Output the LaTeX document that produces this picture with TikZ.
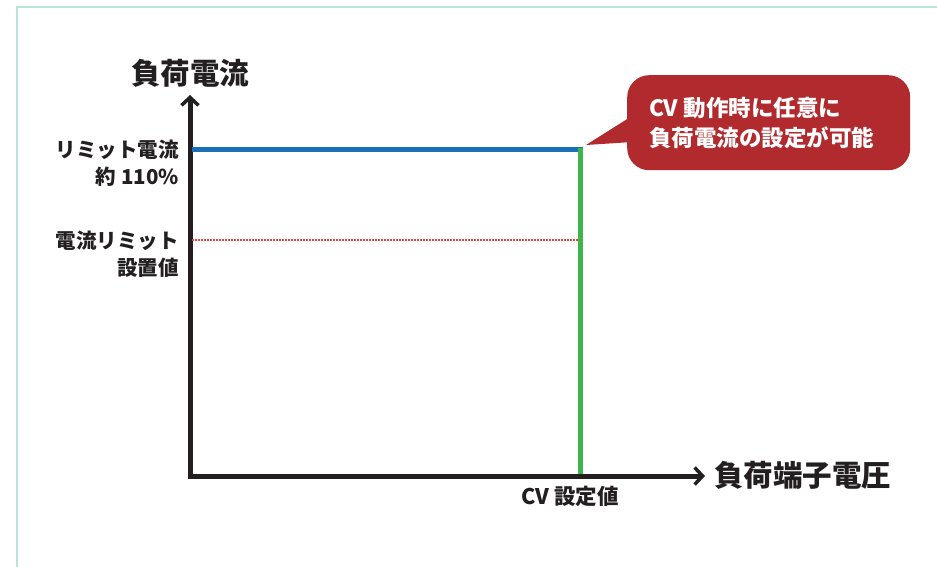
\documentclass[tikz,border=0pt]{standalone}
\usepackage{fontspec}
\newfontfamily\jp{Noto Sans CJK JP}
\usetikzlibrary{arrows.meta}
\definecolor{frame}{HTML}{BCE3D8}
\definecolor{axis}{HTML}{231F20}
\definecolor{blueln}{HTML}{1A6FB8}
\definecolor{greenln}{HTML}{3DB54A}
\definecolor{redln}{HTML}{EE4035}
\definecolor{callout}{HTML}{B02A2E}
\tikzset{
  lbl/.style={font=\jp\bfseries\fontsize{20.5}{27}\selectfont, text=axis, inner sep=0pt},
  cvl/.style={font=\jp\bfseries\fontsize{21.5}{27}\selectfont, text=axis, inner sep=0pt},
  big/.style={font=\jp\bfseries\fontsize{29.5}{34}\selectfont, text=axis, inner sep=0pt},
  axisln/.style={draw=axis, line width=5pt, -{Straight Barb[length=8pt,width=17pt,line width=3.5pt]}},
}
\begin{document}
\begin{tikzpicture}[x=1pt,y=-1pt]
\useasboundingbox (0,0) rectangle (937,567);
\draw[frame, line width=1.5pt] (17,567) -- (17,7) -- (937,7);
% axes
\coordinate (o) at (190,476);
\coordinate (ytip) at (190,95);
\coordinate (xtip) at (705,476);
\draw[axisln] (190,478.5) -- (ytip);
\draw[axisln] (187.5,476) -- (xtip);
% lines
\coordinate (bl) at (192,150);
\coordinate (br) at (582.5,150);
\coordinate (gt) at (580,148);
\coordinate (gb) at (580,474);
\draw[blueln, line width=5pt] (bl) -- (br);
\draw[greenln, line width=5pt] (gt) -- (gb);
\coordinate (rl) at (192,240);
\coordinate (rr) at (578,240);
\draw[redln, line width=1.2pt, dash pattern=on 1.5pt off 1.5pt] (rl) -- (rr);
% labels
\node[big] (ylab) at (190,73) {負荷電流};
\node[big, anchor=west] (xlab) at (714,475) {負荷端子電圧};
\node[lbl, anchor=east, align=right] (lim) at (179,163) {リミット電流\\約 110\%};
\node[lbl, anchor=east, align=right] (set) at (179,254) {電流リミット\\設置値};
\node[cvl] (cv) at (570,496) {CV 設定値};
% callout
\node[fill=callout, rounded corners=22pt, minimum width=283pt, minimum height=95pt, anchor=north west] (co) at (627,75) {};
\coordinate (tip) at (586,145);
\fill[callout] (tip) -- (632,116) -- (632,142) -- cycle;
\node[font=\jp\bfseries\fontsize{22.5}{30}\selectfont, text=white, align=left, anchor=west, inner sep=0pt] (cotext) at (649,123) {CV 動作時に任意に\\負荷電流の設定が可能};
\end{tikzpicture}
\end{document}
